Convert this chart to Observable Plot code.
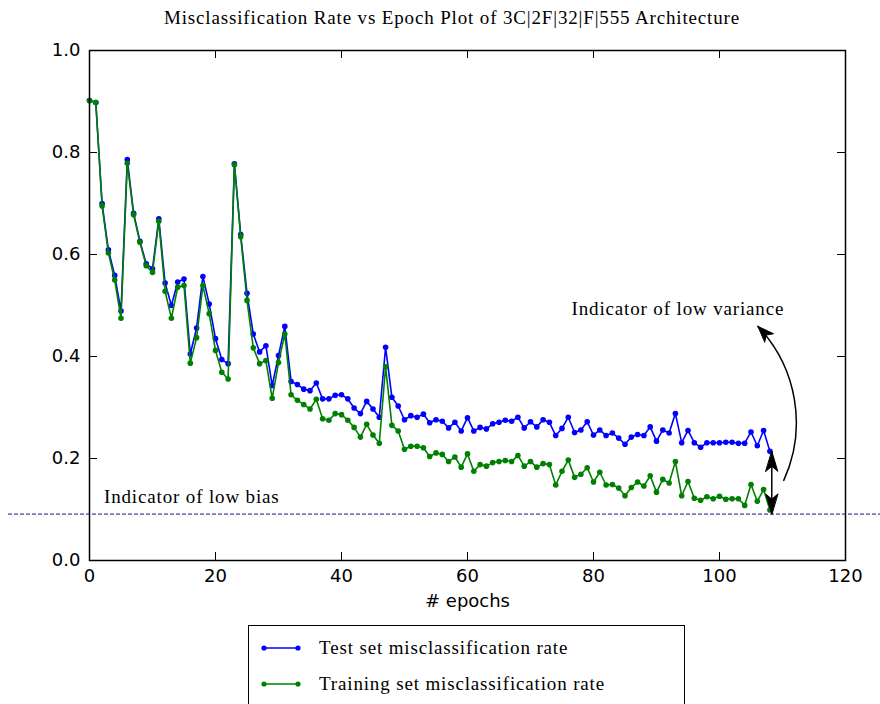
<!DOCTYPE html>
<html>
<head>
<meta charset="utf-8">
<script src="https://cdn.jsdelivr.net/npm/d3@7"></script>
<script src="https://cdn.jsdelivr.net/npm/@observablehq/plot@0.6"></script>
<style>
  html, body { margin: 0; padding: 0; background: #fff; }
  body { position: relative; width: 880px; height: 704px; overflow: hidden; }
  #title {
    position: absolute; left: 0; top: 0; width: 880px; height: 36px;
    font-family: "Liberation Serif", serif; font-size: 19px; letter-spacing: 0.85px; color: #000;
    text-align: center; line-height: 36px; padding-left: 24px; box-sizing: border-box;
  }
  #chart { position: absolute; left: 0; top: 36px; }
  #legend {
    position: absolute; left: 248px; top: 625px; width: 437px; height: 100px;
    border: 1.5px solid #000; box-sizing: border-box; background: #fff;
    font-family: "Liberation Serif", serif; font-size: 19px; letter-spacing: 0.85px; color: #000;
  }
  .row { position: absolute; left: 0; height: 22px; display: flex; align-items: center; }
  .row svg { margin-left: 12px; margin-right: 18px; }
</style>
</head>
<body>
<div id="title">Misclassification Rate vs Epoch Plot of 3C|2F|32|F|555 Architecture</div>
<div id="chart"></div>
<div id="legend"></div>
<script>
// Misclassification rate per epoch (epochs 0..108)
const testRate = [
  0.902, 0.898, 0.700, 0.609, 0.559, 0.489, 0.786, 0.681, 0.626, 0.582,
  0.572, 0.670, 0.544, 0.500, 0.546, 0.552, 0.405, 0.456, 0.557, 0.503,
  0.435, 0.394, 0.386, 0.778, 0.639, 0.524, 0.444, 0.409, 0.421, 0.343,
  0.402, 0.459, 0.351, 0.345, 0.336, 0.333, 0.348, 0.317, 0.317, 0.324,
  0.325, 0.317, 0.299, 0.288, 0.312, 0.297, 0.281, 0.418, 0.320, 0.303,
  0.276, 0.284, 0.281, 0.287, 0.270, 0.276, 0.273, 0.260, 0.271, 0.254,
  0.280, 0.254, 0.261, 0.258, 0.268, 0.271, 0.275, 0.273, 0.281, 0.260,
  0.272, 0.262, 0.276, 0.271, 0.245, 0.259, 0.281, 0.251, 0.256, 0.272,
  0.246, 0.256, 0.245, 0.250, 0.240, 0.228, 0.242, 0.247, 0.245, 0.262,
  0.234, 0.256, 0.250, 0.288, 0.231, 0.255, 0.231, 0.222, 0.231, 0.231,
  0.231, 0.232, 0.232, 0.230, 0.230, 0.252, 0.225, 0.255, 0.214
];
const trainRate = [
  0.902, 0.898, 0.695, 0.603, 0.550, 0.475, 0.779, 0.678, 0.624, 0.578,
  0.565, 0.665, 0.528, 0.475, 0.536, 0.539, 0.387, 0.437, 0.539, 0.484,
  0.412, 0.369, 0.356, 0.776, 0.635, 0.510, 0.417, 0.386, 0.392, 0.318,
  0.388, 0.444, 0.325, 0.314, 0.306, 0.297, 0.316, 0.278, 0.275, 0.288,
  0.286, 0.275, 0.261, 0.242, 0.267, 0.246, 0.230, 0.380, 0.265, 0.254,
  0.218, 0.224, 0.224, 0.221, 0.204, 0.211, 0.208, 0.194, 0.203, 0.183,
  0.209, 0.175, 0.188, 0.185, 0.192, 0.194, 0.196, 0.194, 0.206, 0.185,
  0.194, 0.183, 0.190, 0.188, 0.148, 0.175, 0.197, 0.163, 0.169, 0.182,
  0.154, 0.173, 0.148, 0.149, 0.142, 0.127, 0.143, 0.154, 0.146, 0.166,
  0.134, 0.159, 0.152, 0.194, 0.127, 0.155, 0.122, 0.118, 0.125, 0.121,
  0.126, 0.120, 0.121, 0.121, 0.108, 0.149, 0.116, 0.139, 0.099
];
const xTicks = [0, 20, 40, 60, 80, 100, 120];
const yTicks = [0.0, 0.2, 0.4, 0.6, 0.8, 1.0];
const seriesNames = ["Test set misclassification rate", "Training set misclassification rate"];
const seriesColors = ["#0000ff", "#008000"];

// Reference level and annotation anchors
const biasLevel = 0.091;
const biasLabel = {x: 2.3, y: 0.124, text: "Indicator of low bias"};
const varianceLabel = {x: 93.4, y: 0.494, text: "Indicator of low variance"};
const varianceArrow = {x1: 110.2, y1: 0.157, x2: 106.1, y2: 0.459};

const testRows = testRate.map((v, i) => ({epoch: i, rate: v}));
const trainRows = trainRate.map((v, i) => ({epoch: i, rate: v}));
const lastEpoch = testRows.length - 1;
const gap = [{epoch: lastEpoch + 0.3, top: testRate[lastEpoch], bottom: biasLevel}];

const W = 880, H = 588;
const mL = 89, mR = 35, mT = 14, mB = 64;
const frameW = W - mL - mR, frameH = H - mT - mB;
const tickLen = 8;
const sans = "DejaVu Sans, sans-serif";
const serif = "Liberation Serif, serif";

// Filled arrowhead with a slightly swept-back base
const headShape = {
  draw(context, l) {
    const w = 6;
    context.moveTo(0, -l);
    context.lineTo(w, 0);
    context.lineTo(0, -l * 0.25);
    context.lineTo(-w, 0);
    context.closePath();
  }
};

const chart = Plot.plot({
  width: W,
  height: H,
  marginLeft: mL,
  marginRight: mR,
  marginTop: mT,
  marginBottom: mB,
  style: {background: "#fff", overflow: "visible"},
  x: {domain: [0, 120]},
  y: {domain: [0, 1]},
  marks: [
    Plot.axisX(xTicks, {tickSize: 0, tickPadding: 9, fontSize: 18, fontFamily: sans, fill: "#000", label: null}),
    Plot.axisY(yTicks, {tickSize: 0, tickPadding: 9, fontSize: 18, fontFamily: sans, fill: "#000", label: null,
      tickFormat: d => d.toFixed(1)}),
    // inward tick marks on all four sides
    Plot.ruleX(xTicks, {stroke: "#000", strokeWidth: 1, insetTop: frameH - tickLen}),
    Plot.ruleX(xTicks, {stroke: "#000", strokeWidth: 1, insetBottom: frameH - tickLen}),
    Plot.ruleY(yTicks, {stroke: "#000", strokeWidth: 1, insetRight: frameW - tickLen}),
    Plot.ruleY(yTicks, {stroke: "#000", strokeWidth: 1, insetLeft: frameW - tickLen}),
    Plot.text(["# epochs"], {frameAnchor: "bottom", dy: 46, fontSize: 18, fontFamily: sans, fill: "#000"}),
    // low-bias reference line, running past the frame
    Plot.ruleY([biasLevel], {stroke: "#14147f", strokeWidth: 1, strokeDasharray: "4,2",
      insetLeft: -81, insetRight: -35}),
    // series
    Plot.line(testRows, {x: "epoch", y: "rate", stroke: seriesColors[0], strokeWidth: 1.6}),
    Plot.dot(testRows, {x: "epoch", y: "rate", r: 2.8, fill: seriesColors[0], stroke: "none"}),
    Plot.line(trainRows, {x: "epoch", y: "rate", stroke: seriesColors[1], strokeWidth: 1.6}),
    Plot.dot(trainRows, {x: "epoch", y: "rate", r: 2.8, fill: seriesColors[1], stroke: "none"}),
    // double-headed arrow between last test value and the bias line
    Plot.ruleX(gap, {x: "epoch", y1: "top", y2: "bottom", stroke: "#000", strokeWidth: 1.5}),
    Plot.vector(gap, {x: "epoch", y: "top", length: 20, anchor: "end", rotate: 0,
      shape: headShape, fill: "#000", stroke: "#000", strokeWidth: 1}),
    Plot.vector(gap, {x: "epoch", y: "bottom", length: 20, anchor: "end", rotate: 180,
      shape: headShape, fill: "#000", stroke: "#000", strokeWidth: 1}),
    // curved arrow to the variance label
    Plot.arrow([varianceArrow], {x1: "x1", y1: "y1", x2: "x2", y2: "y2", bend: -34,
      headLength: 0, stroke: "#000", strokeWidth: 1.5}),
    Plot.vector([varianceArrow], {x: "x2", y: "y2", length: 16, anchor: "end", rotate: -44,
      shape: headShape, fill: "#000", stroke: "#000", strokeWidth: 1}),
    Plot.text([biasLabel], {x: "x", y: "y", text: "text", textAnchor: "start", fontSize: 19,
      fontFamily: serif, fill: "#000"}),
    Plot.text([varianceLabel], {x: "x", y: "y", text: "text", textAnchor: "middle", fontSize: 19,
      fontFamily: serif, fill: "#000"}),
    Plot.frame({stroke: "#000", strokeWidth: 1.5})
  ]
});

// widen the serif annotation lettering to match the title
d3.select(chart).selectAll("text")
  .filter(function() { return this.textContent.startsWith("Indicator"); })
  .attr("letter-spacing", "0.85px");

document.getElementById("chart").appendChild(chart);

// legend
const legend = document.getElementById("legend");
seriesNames.forEach((name, i) => {
  const row = document.createElement("div");
  row.className = "row";
  row.style.top = (i === 0 ? 11 : 47) + "px";
  const c = seriesColors[i];
  row.innerHTML =
    `<svg width="40" height="10"><line x1="3" y1="5" x2="37" y2="5" stroke="${c}" stroke-width="1.6"/>` +
    `<circle cx="3" cy="5" r="2.6" fill="${c}"/><circle cx="37" cy="5" r="2.6" fill="${c}"/></svg>` +
    `<span>${name}</span>`;
  legend.appendChild(row);
});
</script>
</body>
</html>
